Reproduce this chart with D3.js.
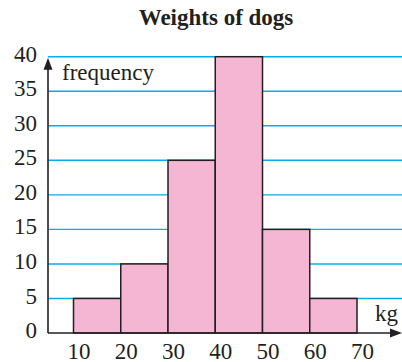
<!DOCTYPE html>
<html><head><meta charset="utf-8">
<script src="https://cdn.jsdelivr.net/npm/d3@7"></script>
<style>body{margin:0;background:#fff}svg{display:block}</style>
</head><body><div id="c"></div>
<script>
const binStarts = [10, 20, 30, 40, 50, 60];
const binEnds = [20, 30, 40, 50, 60, 70];
const frequencies = [5, 10, 25, 40, 15, 5];
const xTicks = [10, 20, 30, 40, 50, 60, 70];
const yTicks = [0, 5, 10, 15, 20, 25, 30, 35, 40];
const title = "Weights of dogs";
const yLabel = "frequency";
const xLabel = "kg";

const FONT = "'Liberation Serif', 'DejaVu Serif', serif";
const INK = "#231f20";
const W = 402, H = 362;
const svg = d3.select("#c").append("svg").attr("width", W).attr("height", H);
const x = d3.scaleLinear().domain([10, 70]).range([73.5, 357]);
const y = d3.scaleLinear().domain([0, 40]).range([333, 56.7]);
const axisX0 = 48;

svg.append("text").attr("x", 216).attr("y", 25).attr("text-anchor", "middle")
  .style("font-family", FONT).style("font-weight", "bold").style("font-size", "23px").attr("fill", INK).text(title);

// grid
svg.append("g").selectAll("line").data(yTicks.filter(d => d > 0)).join("line")
  .attr("x1", axisX0).attr("x2", W).attr("y1", d => y(d)).attr("y2", d => y(d))
  .attr("stroke", "#00aeef").attr("stroke-width", 1.4);

// bars
svg.append("g").selectAll("rect").data(frequencies).join("rect")
  .attr("x", (d, i) => x(binStarts[i])).attr("width", (d, i) => x(binEnds[i]) - x(binStarts[i]))
  .attr("y", d => y(d)).attr("height", d => y(0) - y(d))
  .attr("fill", "#f4b6d2").attr("stroke", INK).attr("stroke-width", 1.5);

// y tick labels
const yAxis = d3.axisLeft(y).tickValues(yTicks).tickSize(0).tickPadding(11);
const gy = svg.append("g").attr("transform", `translate(${axisX0},0)`).call(yAxis);
gy.select(".domain").remove();
gy.selectAll("text").style("font-family", FONT).style("font-size", "23px").attr("fill", INK).attr("dy", "0.2em");

// x tick labels
const xAxis = d3.axisBottom(x).tickValues(xTicks).tickSize(0).tickPadding(0);
const gx = svg.append("g").attr("transform", `translate(5,${y(0)})`).call(xAxis);
gx.select(".domain").remove();
gx.selectAll("text").style("font-family", FONT).style("font-size", "23px").attr("fill", INK).attr("dy", null).attr("y", 25.5);

// axes lines with arrows
svg.append("line").attr("x1", axisX0).attr("x2", W - 8).attr("y1", y(0)).attr("y2", y(0))
  .attr("stroke", INK).attr("stroke-width", 1.6);
svg.append("path").attr("d", `M${W},${y(0)} L${W - 12},${y(0) - 4.5} L${W - 12},${y(0) + 4.5}Z`).attr("fill", INK);
svg.append("line").attr("x1", axisX0).attr("x2", axisX0).attr("y1", y(0)).attr("y2", y(40) + 8)
  .attr("stroke", INK).attr("stroke-width", 1.6);
svg.append("path").attr("d", `M${axisX0},${y(40) + 1} L${axisX0 - 4.5},${y(40) + 13} L${axisX0 + 4.5},${y(40) + 13}Z`).attr("fill", INK);

svg.append("text").attr("x", 62).attr("y", 80).style("font-family", FONT).style("font-size", "23px").attr("fill", INK).text(yLabel);
svg.append("text").attr("x", 375).attr("y", 321).style("font-family", FONT).style("font-size", "23px").attr("fill", INK).text(xLabel);
</script></body></html>
